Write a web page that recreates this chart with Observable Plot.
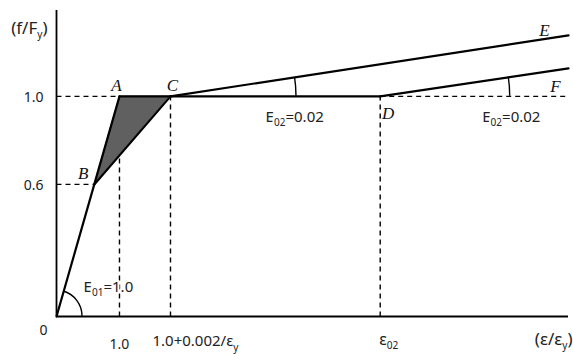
<!DOCTYPE html>
<html>
<head>
<meta charset="utf-8">
<script src="https://cdn.jsdelivr.net/npm/d3@7"></script>
<script src="https://cdn.jsdelivr.net/npm/@observablehq/plot@0.6"></script>
<style>
  html, body { margin: 0; padding: 0; background: #fff; }
  #chart svg { display: block; }
</style>
</head>
<body>
<div id="chart"></div>
<script>
// ---- data (normalized strain ε/εy, normalized stress f/Fy) ----
const xMax = 8.13;
const yMax = 1.39;

const ptName = ["O", "B", "A", "C", "D", "E", "F"];
const ptX    = [0,   0.6, 1.0, 1.81, 5.14, 8.13, 8.13];
const ptY    = [0,   0.6, 1.0, 1.0,  1.0,  1.277, 1.127];

const solidSegs = [["O","B"],["B","A"],["A","C"],["B","C"],["C","D"],["C","E"],["D","F"]];

// dashed guide lines: [x1, y1, x2, y2]
const dashX1 = [0,   0,   5.14, 1.0,  1.81, 5.14];
const dashY1 = [1.0, 0.6, 1.0,  0,    0,    0];
const dashX2 = [1.0, 0.6, 8.13, 1.0,  1.81, 5.14];
const dashY2 = [1.0, 0.6, 1.0,  0.732, 1.0, 1.0];

const yTickVals = [1.0, 0.6, 0];
const yTickText = ["1.0", "0.6", "0"];
const xTickVals = [1.0, 1.81, 5.14];
const xTickText = ["1.0", "1.0+0.002/ε{y}", "ε{02}"];

const annText = ["E{01}=1.0", "E{02}=0.02", "E{02}=0.02"];
const annX    = [0.43, 3.32, 6.76];
const annY    = [0.132, 0.905, 0.905];

// arcs: center point, target point (angle measured from horizontal), radius px
const arcCenter = ["O", "C", "D"];
const arcTarget = ["B", "E", "F"];
const arcRadius = [26, 126, 130];

const yLabel = "(f/F{y})";
const xLabel = "(ε/ε{y})";

// ---- helpers ----
const P = n => { const i = ptName.indexOf(n); return {name: n, x: ptX[i], y: ptY[i]}; };
const segs = solidSegs.map(([a, b]) => ({x1: P(a).x, y1: P(a).y, x2: P(b).x, y2: P(b).y}));
const dashes = dashX1.map((d, i) => ({x1: dashX1[i], y1: dashY1[i], x2: dashX2[i], y2: dashY2[i]}));
const tri = [
  {y: P("B").y, xl: P("B").x, xr: P("B").x},
  {y: P("A").y, xl: P("A").x, xr: P("C").x}
];
const font = "'Noto Sans', 'DejaVu Sans', sans-serif";
const serif = "'Liberation Serif', 'DejaVu Serif', serif";

const arcMark = (index, scales) => {
  const g = d3.create("svg:g").attr("fill", "none").attr("stroke", "#000").attr("stroke-width", 1.4);
  arcCenter.forEach((c, i) => {
    const pc = P(c), pt = P(arcTarget[i]);
    const cx = scales.x(pc.x), cy = scales.y(pc.y);
    const tx = scales.x(pt.x), ty = scales.y(pt.y);
    const th = Math.atan2(cy - ty, tx - cx);
    const r = arcRadius[i];
    g.append("path").attr("d",
      `M${cx + r},${cy} A${r},${r} 0 0 0 ${cx + r * Math.cos(th)},${cy - r * Math.sin(th)}`);
  });
  return g.node();
};

const txt = (data, opts) => Plot.text(data, {fontFamily: font, fontSize: 14, fill: "#222", ...opts});
const ptLabel = (n, dx, dy) => Plot.text([P(n)], {x: "x", y: "y", text: "name", dx, dy,
  fontFamily: serif, fontStyle: "italic", fontSize: 17, fill: "#111"});

const plot = Plot.plot({
  width: 573,
  height: 354,
  marginLeft: 56,
  marginRight: 5,
  marginTop: 10,
  marginBottom: 38,
  x: {domain: [0, xMax], axis: null},
  y: {domain: [0, yMax], axis: null},
  style: {background: "#fff"},
  marks: [
    Plot.areaX(tri, {y: "y", x1: "xl", x2: "xr", fill: "#606060"}),
    Plot.link(dashes, {x1: "x1", y1: "y1", x2: "x2", y2: "y2", stroke: "#000",
      strokeWidth: 1.4, strokeDasharray: "5,4"}),
    Plot.ruleY([0], {x1: 0, x2: xMax, stroke: "#000", strokeWidth: 1.8}),
    Plot.ruleX([0], {y1: 0, y2: yMax, stroke: "#000", strokeWidth: 1.8}),
    Plot.link(segs, {x1: "x1", y1: "y1", x2: "x2", y2: "y2", stroke: "#000",
      strokeWidth: 2.2, strokeLinecap: "round"}),
    arcMark,
    // tick labels
    txt(yTickVals.slice(0, 2).map((v, i) => ({v, t: yTickText[i]})), {x: 0, y: "v", text: "t", textAnchor: "end", dx: -13, dy: 1}),
    txt([{t: yTickText[2]}], {x: 0, y: 0, text: "t", dx: -13, dy: 14}),
    txt([{v: xTickVals[0], t: xTickText[0]}], {x: "v", y: 0, text: "t", dy: 28}),
    txt([{v: xTickVals[1], t: xTickText[1]}], {x: "v", y: 0, text: "t", textAnchor: "start", dx: -18, dy: 25, fontSize: 15, letterSpacing: "0.6px"}),
    txt([{v: xTickVals[2], t: xTickText[2]}], {x: "v", y: 0, text: "t", textAnchor: "start", dx: -1, dy: 23, fontSize: 16}),
    // axis titles
    txt([{t: yLabel}], {x: 0, y: 1.309, text: "t", textAnchor: "end", dx: -9, fontSize: 17, letterSpacing: "0.5px"}),
    txt([{t: xLabel}], {x: xMax, y: 0, text: "t", textAnchor: "end", dx: 4, dy: 23, fontSize: 17, letterSpacing: "1.5px"}),
    // annotations (white halo hides guide lines behind them)
    txt(annText.map((t, i) => ({t, x: annX[i], y: annY[i]})), {x: "x", y: "y", text: "t", textAnchor: "start", fontSize: 15,
      stroke: "#fff", strokeWidth: 4, paintOrder: "stroke"}),
    // point labels
    ptLabel("A", -3, -11),
    ptLabel("B", -11, -11),
    ptLabel("C", 2, -11),
    ptLabel("D", 8, 17),
    ptLabel("E", -24, -5),
    ptLabel("F", -13, 18)
  ]
});

// subscripts: text inside {...}
d3.select(plot).selectAll("text").each(function () {
  const s = this.textContent;
  if (!s.includes("{")) return;
  const el = d3.select(this);
  const fs = parseFloat(el.attr("font-size")) || 14;
  el.text(null);
  const parts = s.split(/(\{[^}]*\})/).filter(p => p.length);
  let shifted = false;
  parts.forEach(p => {
    if (p.startsWith("{")) {
      el.append("tspan").attr("font-size", fs * 0.72).attr("dy", fs * 0.3).text(p.slice(1, -1));
      shifted = true;
    } else {
      const t = el.append("tspan").text(p);
      if (shifted) { t.attr("dy", -fs * 0.3); shifted = false; }
    }
  });
});

document.getElementById("chart").appendChild(plot);
</script>
</body>
</html>
